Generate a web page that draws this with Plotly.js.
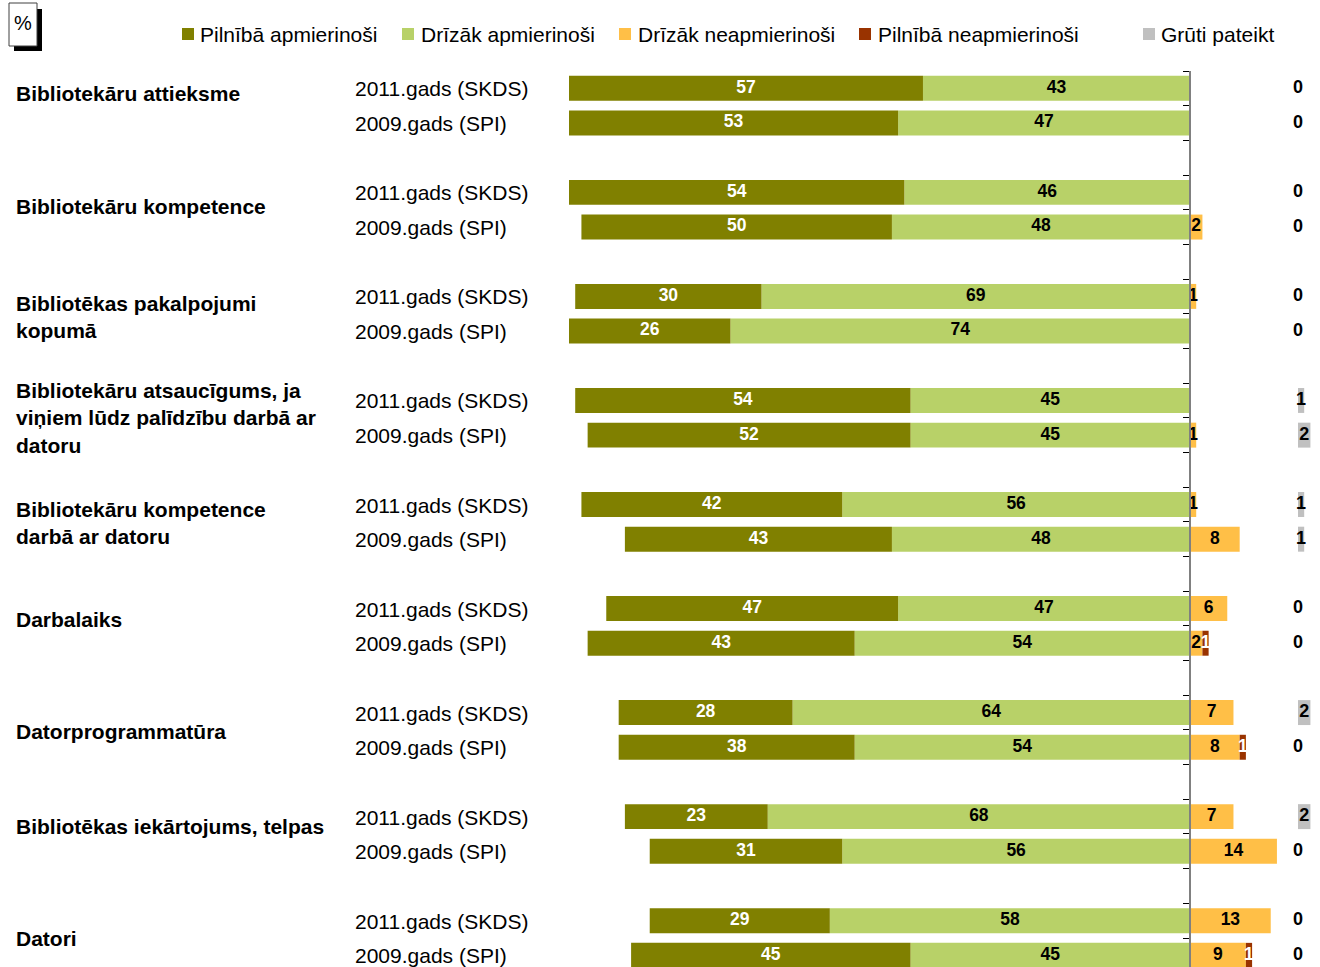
<!DOCTYPE html>
<html>
<head>
<meta charset="utf-8">
<script src="https://cdn.plot.ly/plotly-3.0.1.min.js"></script>
<style>html,body{margin:0;padding:0;background:#fff}#chart{width:1320px;height:967px}</style>
</head>
<body>
<div id="chart"></div>
<script>
// ---------- DATA ----------
const CATEGORIES = [
  'Bibliotekāru attieksme',
  'Bibliotekāru kompetence',
  'Bibliotēkas pakalpojumi<br>kopumā',
  'Bibliotekāru atsaucīgums, ja<br>viņiem lūdz palīdzību darbā ar<br>datoru',
  'Bibliotekāru kompetence<br>darbā ar datoru',
  'Darbalaiks',
  'Datorprogrammatūra',
  'Bibliotēkas iekārtojums, telpas',
  'Datori'
];
const YEARS = ['2011.gads (SKDS)', '2009.gads (SPI)'];
const SERIES = ['Pilnībā apmierinoši', 'Drīzāk apmierinoši', 'Drīzāk neapmierinoši', 'Pilnībā neapmierinoši', 'Grūti pateikt'];

const FULLY_SAT_2011   = [57, 54, 30, 54, 42, 47, 28, 23, 29];
const FULLY_SAT_2009   = [53, 50, 26, 52, 43, 43, 38, 31, 45];
const RATHER_SAT_2011  = [43, 46, 69, 45, 56, 47, 64, 68, 58];
const RATHER_SAT_2009  = [47, 48, 74, 45, 48, 54, 54, 56, 45];
const RATHER_UNS_2011  = [0, 0, 1, 0, 1, 6, 7, 7, 13];
const RATHER_UNS_2009  = [0, 2, 0, 1, 8, 2, 8, 14, 9];
const FULLY_UNS_2011   = [0, 0, 0, 0, 0, 0, 0, 0, 0];
const FULLY_UNS_2009   = [0, 0, 0, 0, 0, 1, 1, 0, 1];
const HARD_2011        = [0, 0, 0, 1, 1, 0, 2, 2, 0];
const HARD_2009        = [0, 0, 0, 2, 1, 0, 0, 0, 0];

// ---------- STYLE / LAYOUT CONSTANTS ----------
const COLORS = ['#808000', '#B8D168', '#FFBF47', '#993300', '#C0C0C0'];
const FONT = 'Liberation Sans, Arial, sans-serif';
const W = 1320, H = 967;
const PX_PER_UNIT = 6.21;
const ZERO_PX = 1190;
const HARD_BASE = 17.39;        // where the "Grūti pateikt" column starts (x units)
const TOP = 71;                 // plot top in px
const LABEL_YSHIFT = [11.7, 3.7, -2.8, 0, -1.2, 5.9, -1.1, 7.9, 0];
const XSHIFT = -2;

// ---------- BUILD ROWS ----------
const rowY = [], P = [], D = [], DN = [], PN = [], G = [], yearText = [];
CATEGORIES.forEach((c, i) => {
  rowY.push(3 * i, 3 * i + 1);
  P.push(FULLY_SAT_2011[i], FULLY_SAT_2009[i]);
  D.push(RATHER_SAT_2011[i], RATHER_SAT_2009[i]);
  DN.push(RATHER_UNS_2011[i], RATHER_UNS_2009[i]);
  PN.push(FULLY_UNS_2011[i], FULLY_UNS_2009[i]);
  G.push(HARD_2011[i], HARD_2009[i]);
  yearText.push(YEARS[0], YEARS[1]);
});

const BW = 0.72;
function bar(name, x, color, base) {
  const t = {type: 'bar', orientation: 'h', name: name, y: rowY, x: x, width: BW,
    marker: {color: color, line: {width: 0}}, hoverinfo: 'name+text', text: x.map(v => String(Math.abs(v))), textposition: 'none'};
  if (base !== undefined) t.base = base;
  return t;
}
function labels(xs, vals, color, size, showZero) {
  return {type: 'scatter', mode: 'text', x: xs, y: rowY, hoverinfo: 'skip', cliponaxis: false,
    text: vals.map(v => (v > 0 || showZero) ? String(v) : ''), textposition: 'middle center',
    textfont: {family: FONT, size: size, color: color, weight: 'bold'}, showlegend: false};
}

const traces = [
  bar(SERIES[1], D.map(v => -v), COLORS[1]),
  bar(SERIES[0], P.map(v => -v), COLORS[0]),
  bar(SERIES[2], DN, COLORS[2]),
  bar(SERIES[3], PN, COLORS[3]),
  bar(SERIES[4], G, COLORS[4], HARD_BASE),
  labels(P.map((v, k) => -D[k] - v / 2), P, '#FFFFFF', 17.5),
  labels(D.map(v => -v / 2), D, '#000000', 17.5),
  labels(DN.map(v => v / 2), DN, '#000000', 17.5),
  labels(PN.map((v, k) => DN[k] + v / 2), PN, '#FFFFFF', 17.5),
  labels(G.map(v => HARD_BASE + v / 2), G, '#000000', 18, true)
];

// ---------- AXES ----------
const plotH = H - TOP;
const unitPx = 34.68;
const yBottom = -0.5 + plotH / unitPx;
const tickvals = [];
for (let t = -0.5; t <= yBottom; t += 1) tickvals.push(t);

const px2paperX = px => px / W;
const px2paperY = py => (H - py) / plotH;

const annotations = [];
CATEGORIES.forEach((c, i) => {
  annotations.push({xref: 'paper', yref: 'y', x: px2paperX(16), y: 3 * i + 0.5, yshift: LABEL_YSHIFT[i], xshift: XSHIFT,
    text: c, showarrow: false, xanchor: 'left', yanchor: 'middle', align: 'left',
    font: {family: FONT, size: 21, color: '#000', weight: 'bold'}});
});
rowY.forEach((y, k) => {
  annotations.push({xref: 'paper', yref: 'y', x: px2paperX(355), y: y, yshift: -0.5, xshift: XSHIFT, text: yearText[k], showarrow: false,
    xanchor: 'left', yanchor: 'middle', font: {family: FONT, size: 21, color: '#000'}});
});

// custom legend
const LEG_SQ_X = [182, 402, 619, 859, 1143];
const LEG_TXT_X = [200, 421, 638, 878, 1161];
const LEG_Y = 34;
const shapes = [];
SERIES.forEach((s, k) => {
  shapes.push({type: 'rect', xref: 'paper', yref: 'paper', x0: px2paperX(LEG_SQ_X[k]), x1: px2paperX(LEG_SQ_X[k] + 12),
    y0: px2paperY(LEG_Y - 6), y1: px2paperY(LEG_Y + 6), fillcolor: COLORS[k], line: {width: 0}});
  annotations.push({xref: 'paper', yref: 'paper', x: px2paperX(LEG_TXT_X[k]), y: px2paperY(LEG_Y), xshift: XSHIFT, text: s,
    showarrow: false, xanchor: 'left', yanchor: 'middle', font: {family: FONT, size: 21, color: '#000'}});
});
// "%" box with shadow
shapes.push({type: 'rect', xref: 'paper', yref: 'paper', x0: px2paperX(14), x1: px2paperX(42),
  y0: px2paperY(51), y1: px2paperY(9), fillcolor: '#000', line: {width: 0}});
shapes.push({type: 'rect', xref: 'paper', yref: 'paper', x0: px2paperX(9), x1: px2paperX(37),
  y0: px2paperY(46), y1: px2paperY(3), fillcolor: '#fff', line: {width: 1, color: '#404040'}});
annotations.push({xref: 'paper', yref: 'paper', x: px2paperX(23), y: px2paperY(23), text: '%', showarrow: false,
  xanchor: 'center', yanchor: 'middle', font: {family: FONT, size: 20, color: '#000'}});

const layout = {
  width: W, height: H,
  margin: {l: 0, r: 0, t: TOP, b: 0, pad: 0},
  paper_bgcolor: '#fff', plot_bgcolor: '#fff',
  barmode: 'relative',
  showlegend: false,
  xaxis: {range: [-ZERO_PX / PX_PER_UNIT, (W - ZERO_PX) / PX_PER_UNIT], visible: false, fixedrange: true},
  yaxis: {range: [yBottom, -0.5], anchor: 'free', position: ZERO_PX / W, side: 'left',
    tickmode: 'array', tickvals: tickvals, showticklabels: false, ticks: 'outside', ticklen: 6, tickwidth: 1,
    tickcolor: '#000', showline: true, linecolor: '#808080', linewidth: 2, showgrid: false, zeroline: false, fixedrange: true},
  shapes: shapes,
  annotations: annotations
};

Plotly.newPlot('chart', traces, layout, {displayModeBar: false, staticPlot: false});
</script>
</body>
</html>
